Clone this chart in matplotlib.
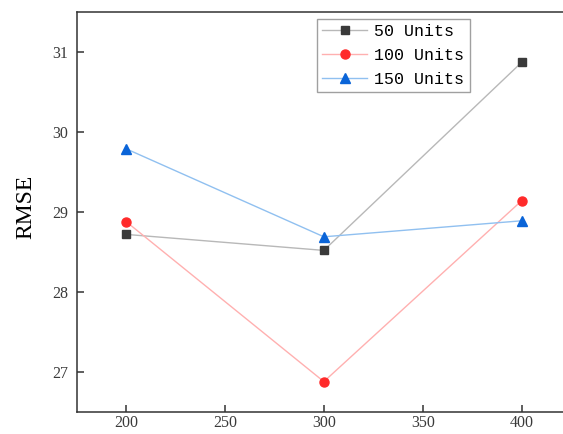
import matplotlib
matplotlib.use("Agg")
import matplotlib.pyplot as plt

x_values = [200, 300, 400]
units_50 = [28.72, 28.52, 30.87]
units_100 = [28.88, 26.88, 29.14]
units_150 = [29.79, 28.69, 28.89]
series_labels = ["50 Units", "100 Units", "150 Units"]
x_ticks = [200, 250, 300, 350, 400]
y_ticks = [27, 28, 29, 30, 31]

W, H = 563, 434
fig = plt.figure(figsize=(W / 100, H / 100), dpi=100)
left_px, right_px, top_px, bot_px = 76.7, 571.0, 12.0, 412.0
ax = fig.add_axes([left_px / W, (H - bot_px) / H,
                   (right_px - left_px) / W, (bot_px - top_px) / H])

ax.plot(x_values, units_50, color="#b8b8b8", lw=1.0, marker="s", ms=6,
        mfc="#3a3a3a", mec="#3a3a3a", label=series_labels[0])
ax.plot(x_values, units_100, color="#ffb0b0", lw=1.0, marker="o", ms=6.5,
        mfc="#ff2a2a", mec="#ff2a2a", label=series_labels[1])
ax.plot(x_values, units_150, color="#90c0f0", lw=1.0, marker="^", ms=7,
        mfc="#0a64d8", mec="#0a64d8", label=series_labels[2])

ax.set_xlim(175, 425)
ax.set_ylim(26.5, 31.5)
ax.set_xticks(x_ticks)
ax.set_yticks(y_ticks)
ax.tick_params(direction="in", length=5, width=1.1, colors="#333333",
               labelsize=11.5, right=True)
ax.tick_params(axis="x", pad=2.5)
ax.tick_params(axis="y", pad=6)
for lab in ax.get_xticklabels() + ax.get_yticklabels():
    lab.set_fontfamily("Liberation Serif")
    lab.set_color("#3a3a3a")
for s in ax.spines.values():
    s.set_linewidth(1.1)
    s.set_color("#333333")

ylab = fig.text(26 / W, 1 - 207 / H, "RMSE", rotation=90, fontsize=17,
                fontfamily="Liberation Serif", color="black",
                ha="center", va="center")

leg = ax.legend(loc="upper left",
                bbox_to_anchor=((317 - left_px) / (right_px - left_px),
                                (bot_px - 19) / (bot_px - top_px)),
                prop={"family": "Liberation Mono", "size": 12},
                frameon=True, fancybox=False, edgecolor="#888888",
                borderpad=0.3, labelspacing=0.55, handlelength=2.7,
                handletextpad=0.45, borderaxespad=0)
leg.get_frame().set_linewidth(1.0)

fig.savefig("out.png", dpi=100)
